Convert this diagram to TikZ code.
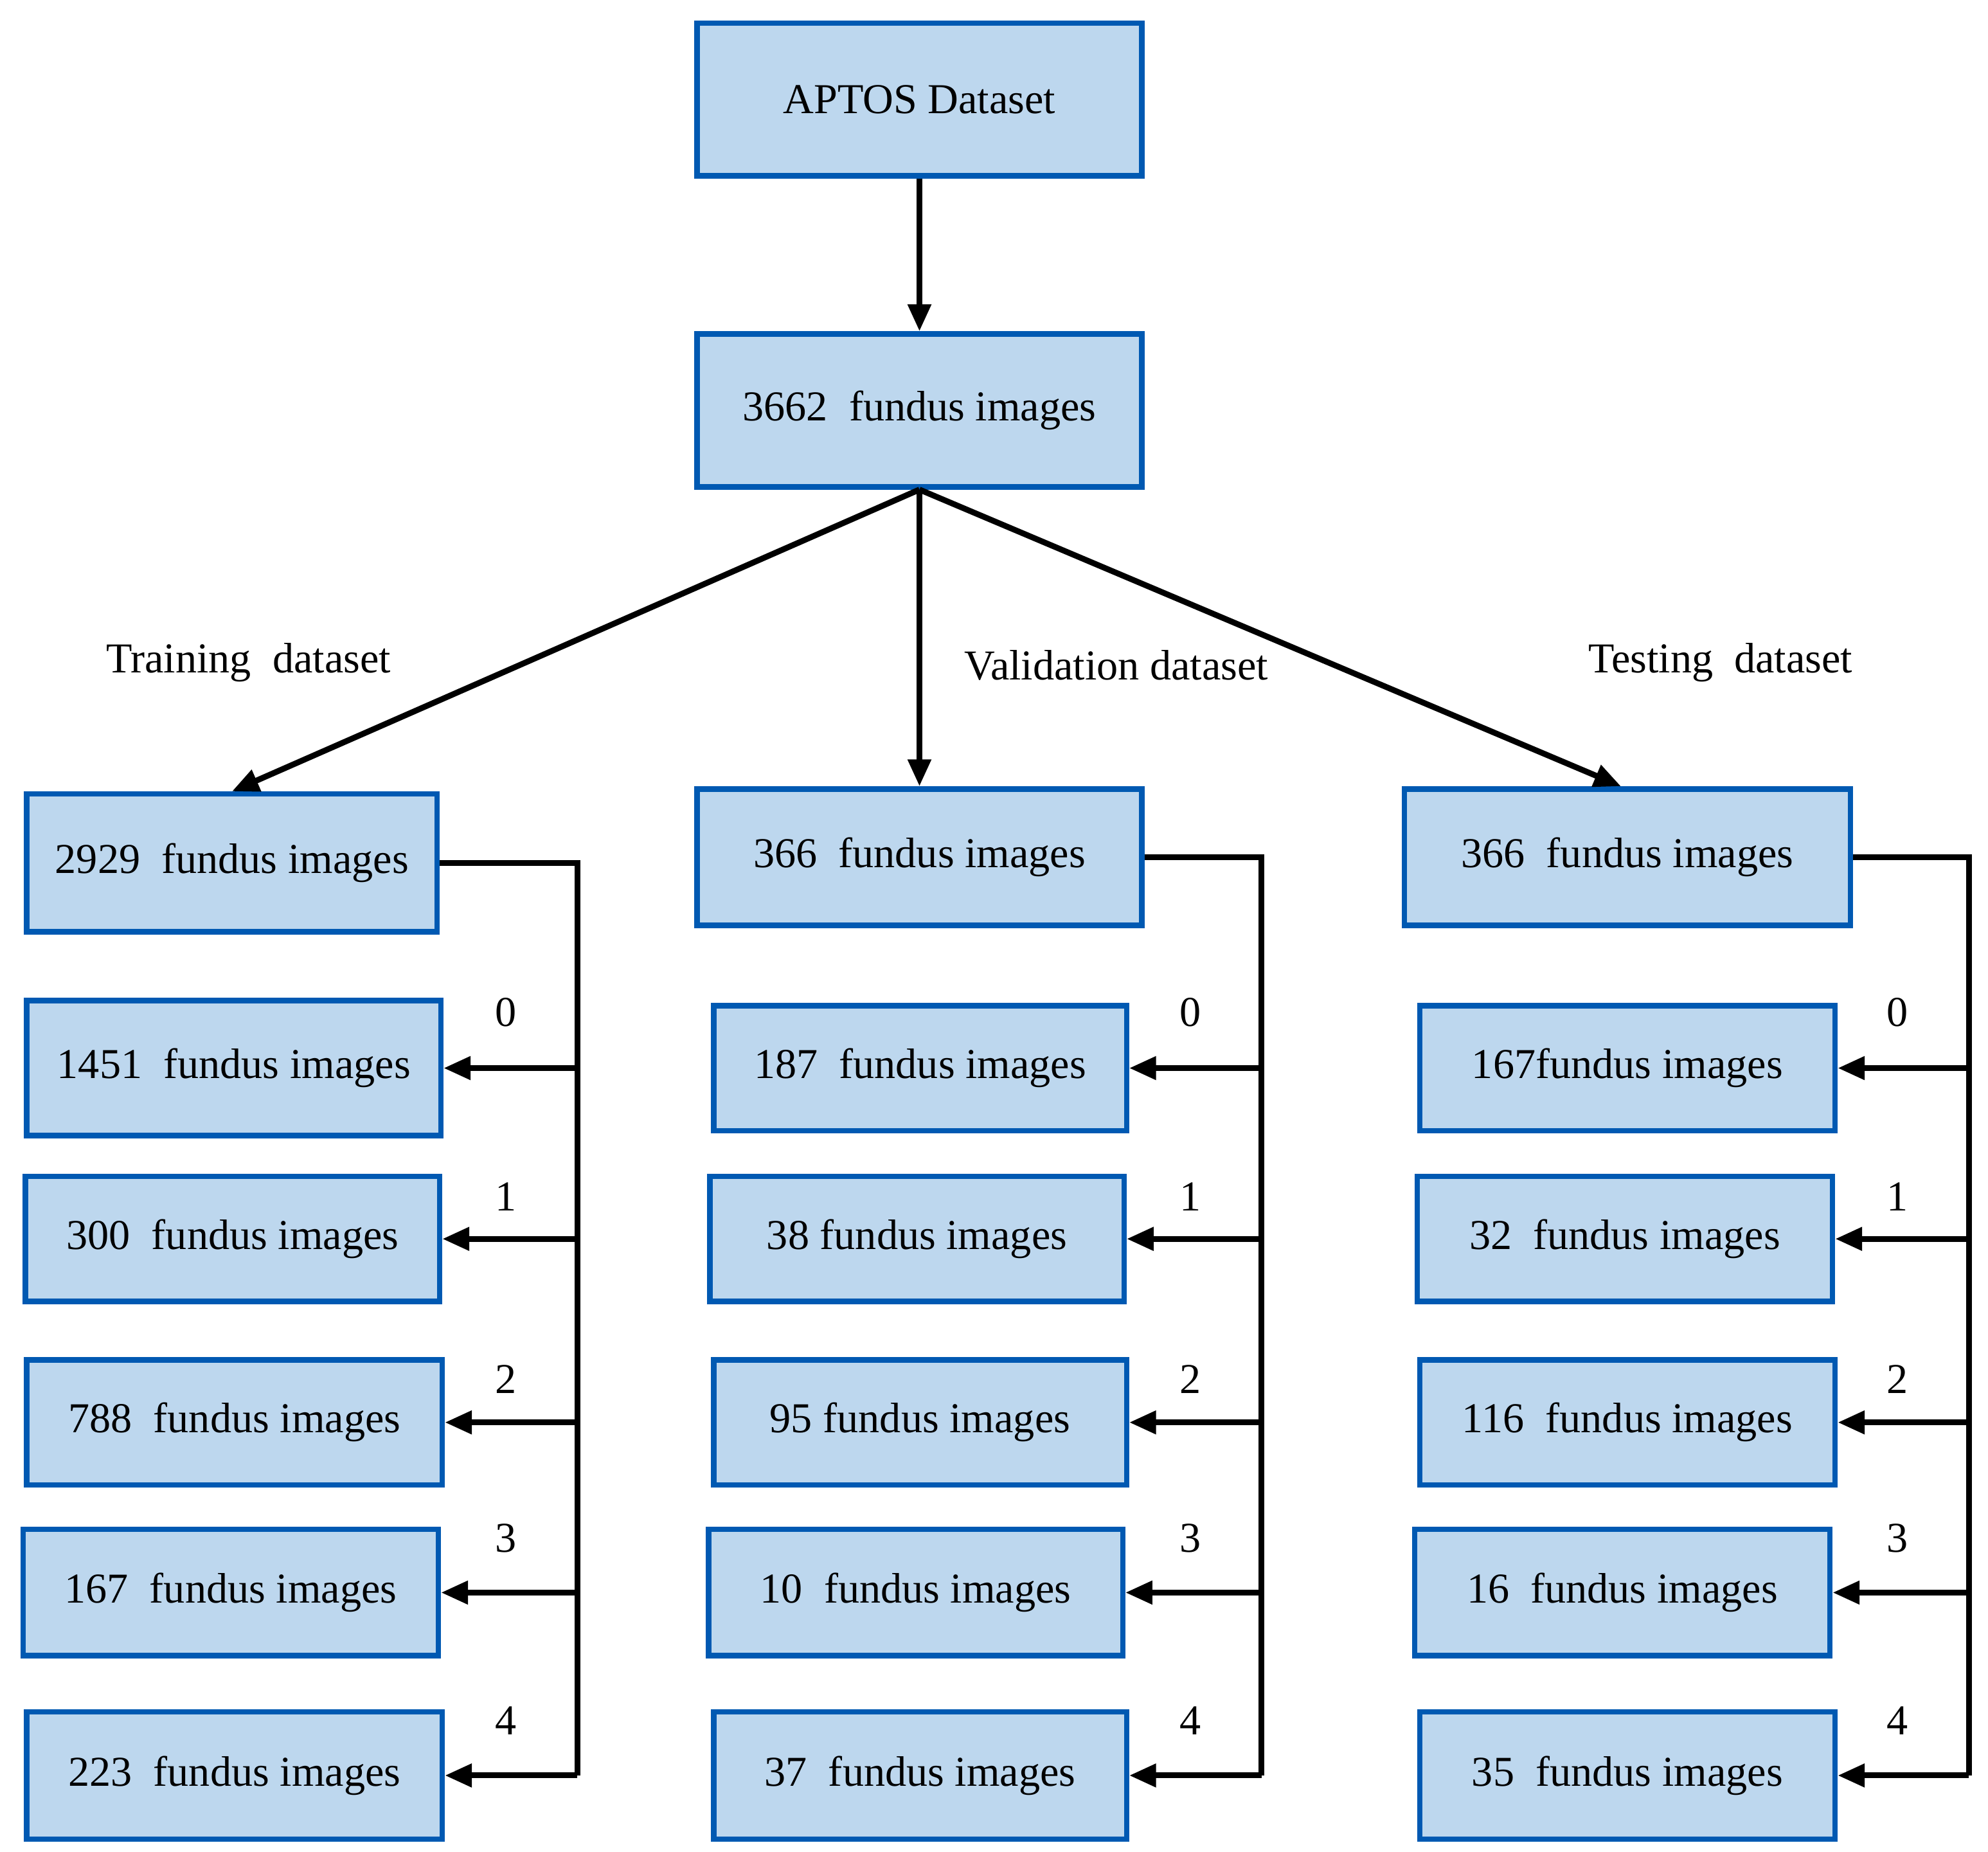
\documentclass[tikz,border=0pt]{standalone}
\usepackage{fontspec}
\setmainfont{Liberation Serif}
\usetikzlibrary{arrows.meta}
\begin{document}
\begin{tikzpicture}[x=0.01cm,y=-0.01cm,
  box/.style={draw=blue!50!cyan!70!black,line width=1.2pt,fill={rgb,255:red,189;green,215;blue,238},inner sep=0pt,font=\fontsize{9.5}{11}\selectfont},
  arr/.style={-{Triangle[length=6pt,width=5pt]},line width=1.3pt},
  ln/.style={line width=1.3pt},
  lab/.style={font=\fontsize{9.5}{11}\selectfont}]
\useasboundingbox (0,0) rectangle (1560,1453);
\newcommand\bx[6]{\node[box,minimum width={(#4-#2)*0.01cm},minimum height={(#5-#3)*0.01cm}] (#1) at ({(#2+#4)/2},{(#3+#5)/2}) {#6};}
\bx{ap}{547}{18}{896}{138}{APTOS Dataset}
\bx{all}{547}{262}{896}{382}{3662\ \ fundus images}
\bx{tr}{21}{623}{343}{731}{2929\ \ fundus images}
\bx{va}{547}{619}{896}{726}{366\ \ fundus images}
\bx{te}{1102}{619}{1452}{726}{366\ \ fundus images}
\bx{t0}{21}{785}{346}{891}{1451\ \ fundus images}
\bx{t1}{20}{923}{345}{1021}{300\ \ fundus images}
\bx{t2}{21}{1067}{347}{1165}{788\ \ fundus images}
\bx{t3}{18}{1200}{344}{1299}{167\ \ fundus images}
\bx{t4}{21}{1343}{347}{1443}{223\ \ fundus images}
\bx{v0}{560}{789}{884}{887}{187\ \ fundus images}
\bx{v1}{557}{923}{882}{1021}{38\ fundus images}
\bx{v2}{560}{1067}{884}{1165}{95\ fundus images}
\bx{v3}{556}{1200}{881}{1299}{10\ \ fundus images}
\bx{v4}{560}{1343}{884}{1443}{37\ \ fundus images}
\bx{s0}{1114}{789}{1440}{887}{167fundus images}
\bx{s1}{1112}{923}{1438}{1021}{32\ \ fundus images}
\bx{s2}{1114}{1067}{1440}{1165}{116\ \ fundus images}
\bx{s3}{1110}{1200}{1436}{1299}{16\ \ fundus images}
\bx{s4}{1114}{1343}{1440}{1443}{35\ \ fundus images}
\draw[arr] (ap) -- (all);
\draw[arr] (all.south) -- (tr.north);
\draw[arr] (all.south) -- (va.north);
\draw[arr] (all.south) -- (te.north-|1272,0);
\node[lab] (lt) at (195,520) {Training\ \ dataset};
\node[lab] (lv) at (876,522) {Validation dataset};
\node[lab] (ls) at (1350,520) {Testing\ \ dataset};
\coordinate (tb) at (453,0); \coordinate (vb) at (990,0); \coordinate (sb) at (1545,0);
\draw[ln] (tr.east) -- (tr.east-|tb) -- (t4.east-|tb);
\draw[ln] (va.east) -- (va.east-|vb) -- (v4.east-|vb);
\draw[ln] (te.east) -- (te.east-|sb) -- (s4.east-|sb);
\foreach \i/\y in {0/794,1/939,2/1082,3/1207,4/1350}{
  \draw[arr] (t\i.east-|tb) -- (t\i.east);
  \draw[arr] (v\i.east-|vb) -- (v\i.east);
  \draw[arr] (s\i.east-|sb) -- (s\i.east);
  \node[lab] (nt\i) at (397,\y) {\i};
  \node[lab] (nv\i) at (934,\y) {\i};
  \node[lab] (ns\i) at (1489,\y) {\i};
}
\end{tikzpicture}
\end{document}
